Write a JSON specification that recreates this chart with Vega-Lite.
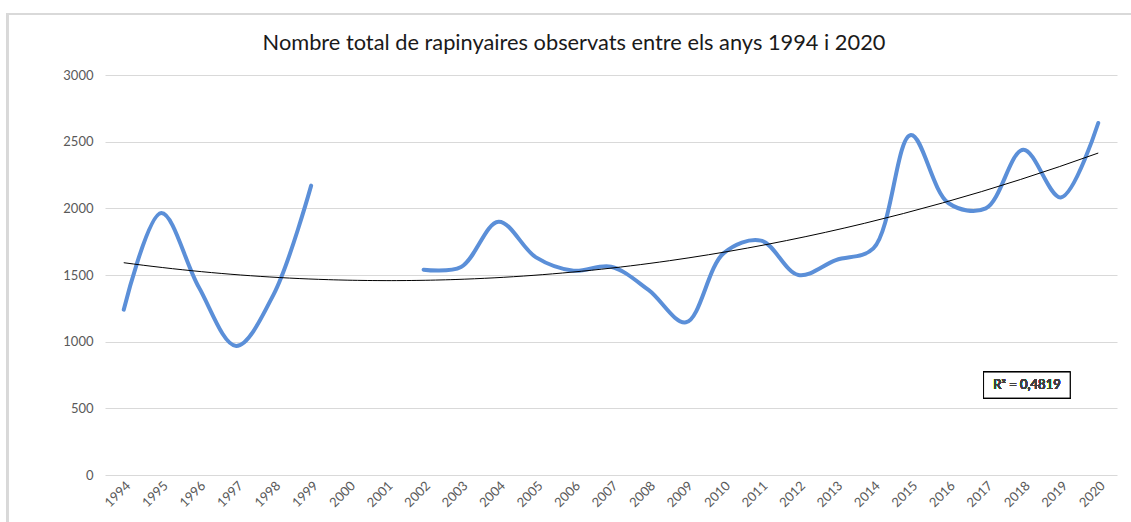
{
  "$schema": "https://vega.github.io/schema/vega-lite/v6.json",
  "autosize": "none",
  "width": 1012,
  "height": 400,
  "padding": {"left": 105, "top": 75, "right": 14, "bottom": 47},
  "background": "white",
  "title": {
    "text": "Nombre total de rapinyaires observats entre els anys 1994 i 2020",
    "font": "Lato",
    "fontSize": 21.8,
    "fontWeight": "normal",
    "color": "#1a1a1a",
    "anchor": "middle",
    "offset": -41,
    "dx": -37
  },
  "data": {
    "values": [
      {"year": 1994, "value": 1240},
      {"year": 1995, "value": 1965},
      {"year": 1996, "value": 1410},
      {"year": 1997, "value": 968},
      {"year": 1998, "value": 1355},
      {"year": 1999, "value": 2170},
      {"year": 2000, "value": null},
      {"year": 2001, "value": null},
      {"year": 2002, "value": 1540},
      {"year": 2003, "value": 1560},
      {"year": 2004, "value": 1900},
      {"year": 2005, "value": 1632},
      {"year": 2006, "value": 1532},
      {"year": 2007, "value": 1562},
      {"year": 2008, "value": 1388},
      {"year": 2009, "value": 1145},
      {"year": 2010, "value": 1662},
      {"year": 2011, "value": 1758},
      {"year": 2012, "value": 1500},
      {"year": 2013, "value": 1612},
      {"year": 2014, "value": 1700},
      {"year": 2015, "value": 2550},
      {"year": 2016, "value": 2040},
      {"year": 2017, "value": 2000},
      {"year": 2018, "value": 2440},
      {"year": 2019, "value": 2082},
      {"year": 2020, "value": 2640}
    ]
  },
  "encoding": {
    "x": {
      "field": "year",
      "type": "quantitative",
      "scale": {"domain": [1993.5, 2020.5], "nice": false, "zero": false},
      "axis": {
        "title": null,
        "values": [1994,1995,1996,1997,1998,1999,2000,2001,2002,2003,2004,2005,2006,2007,2008,2009,2010,2011,2012,2013,2014,2015,2016,2017,2018,2019,2020],
        "format": "d",
        "labelAngle": -45,
        "labelAlign": "right",
        "labelBaseline": "top",
        "labelFont": "Lato",
        "labelFontSize": 13,
        "labelColor": "#595959",
        "labelPadding": 4,
        "domain": false,
        "ticks": false,
        "grid": false,
        "labelOverlap": false,
        "labelFlush": false
      }
    },
    "y": {
      "field": "value",
      "type": "quantitative",
      "scale": {"domain": [0, 3000], "nice": false},
      "axis": {
        "title": null,
        "values": [0, 500, 1000, 1500, 2000, 2500, 3000],
        "format": "d",
        "labelFont": "Lato",
        "labelFontSize": 13,
        "labelColor": "#595959",
        "labelPadding": 12,
        "domain": false,
        "ticks": false,
        "grid": true,
        "gridColor": "#d9d9d9",
        "gridWidth": 1
      }
    }
  },
  "layer": [
    {
      "mark": {"type": "rect", "fill": null, "stroke": "#d9d9d9", "strokeWidth": 1.5},
      "encoding": {
        "x": {"datum": 1990.9},
        "x2": {"datum": 2025},
        "y": {"datum": 3457},
        "y2": {"datum": -1000}
      }
    },
    {
      "mark": {"type": "line", "color": "#5B8FD8", "strokeWidth": 4, "interpolate": "catmull-rom", "strokeCap": "round"}
    },
    {
      "transform": [
        {"filter": "datum.value != null"},
        {"regression": "value", "on": "year", "method": "poly", "order": 2, "extent": [1994, 2020]}
      ],
      "mark": {"type": "line", "color": "#000000", "strokeWidth": 1}
    },
    {
      "mark": {"type": "rect", "fill": "white", "stroke": "#000000", "strokeWidth": 1},
      "encoding": {
        "x": {"datum": 2016.94},
        "x2": {"datum": 2019.25},
        "y": {"datum": 577},
        "y2": {"datum": 772}
      }
    },
    {
      "mark": {"type": "text", "font": "Lato", "fontSize": 13, "color": "#404040", "align": "center", "baseline": "middle", "text": "R² = 0,4819"},
      "encoding": {
        "x": {"datum": 2018.1},
        "y": {"datum": 675}
      }
    }
  ],
  "config": {"view": {"stroke": null}}
}
